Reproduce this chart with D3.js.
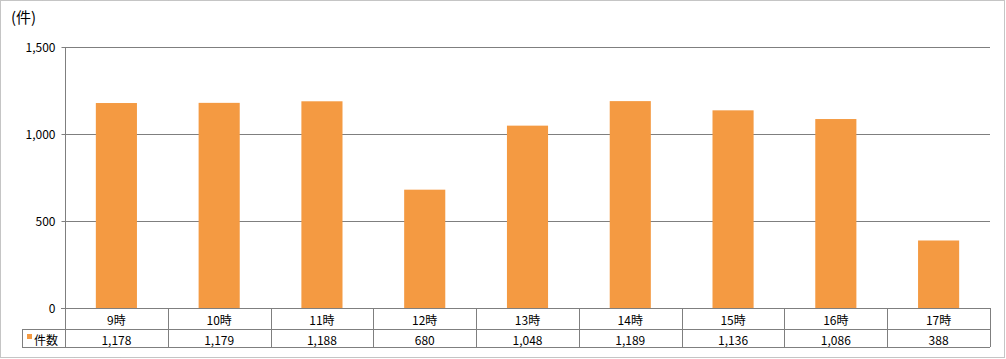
<!DOCTYPE html>
<html>
<head>
<meta charset="utf-8">
<script src="https://cdn.jsdelivr.net/npm/d3@7"></script>
<style>
body { margin: 0; background: #fff; }
text { font-family: "Noto Sans CJK JP", "DejaVu Sans", sans-serif; fill: #000; }
</style>
</head>
<body>
<svg></svg>
<script>
const width = 1006;
const height = 359;
const svg = d3.select("svg").attr("width", width).attr("height", height);

const hours = ["9時", "10時", "11時", "12時", "13時", "14時", "15時", "16時", "17時"];
const counts = [1178, 1179, 1188, 680, 1048, 1189, 1136, 1086, 388];
const yTicks = [0, 500, 1000, 1500];
const seriesName = "件数";
const unitLabel = "(件)";

const barColor = "#f49a42";
const lineColor = "#7f7f7f";

const plotLeft = 65, plotRight = 990, plotTop = 47, plotBottom = 308;
const rowMid = 329, rowBottom = 347, legendLeft = 22;

// 外枠
svg.append("rect")
	.attr("x", 0.5).attr("y", 0.5)
	.attr("width", width - 2).attr("height", height - 2)
	.attr("fill", "none")
	.attr("stroke", "#8a8a8a")
	.attr("stroke-dasharray", "1,1");

const x = d3.scaleBand().domain(hours).range([plotLeft, plotRight]);
const y = d3.scaleLinear().domain([0, 1500]).range([plotBottom, plotTop]);

// グリッド
svg.append("g")
	.selectAll("line")
	.data(yTicks.filter(d => d > 0))
	.join("line")
	.attr("x1", plotLeft).attr("x2", plotRight)
	.attr("y1", d => Math.round(y(d)) + 0.5)
	.attr("y2", d => Math.round(y(d)) + 0.5)
	.attr("stroke", lineColor);

// 棒
const bw = x.bandwidth() * 0.4;
svg.append("g")
	.selectAll("rect")
	.data(counts)
	.join("rect")
	.attr("x", (d, i) => x(hours[i]) + (x.bandwidth() - bw) / 2)
	.attr("y", d => y(d))
	.attr("width", bw)
	.attr("height", d => y(0) - y(d))
	.attr("fill", barColor);

// Y軸
const yAxis = svg.append("g")
	.attr("transform", `translate(${plotLeft + 0.5},0)`)
	.call(d3.axisLeft(y).tickValues(yTicks).tickSize(4).tickPadding(6).tickFormat(d3.format(",")));
yAxis.select(".domain").attr("stroke", lineColor).attr("d", `M0,${plotTop}V${rowBottom}`);
yAxis.selectAll(".tick line").attr("stroke", lineColor);
yAxis.selectAll(".tick text").style("font-size", "12px").attr("dy", "0.35em");

svg.append("text")
	.attr("x", 11).attr("y", 23)
	.style("font-size", "15px")
	.text(unitLabel);

// データテーブル
const table = svg.append("g").attr("stroke", lineColor).attr("fill", "none");
table.append("line")
	.attr("x1", plotLeft - 4).attr("x2", plotRight)
	.attr("y1", plotBottom + 0.5).attr("y2", plotBottom + 0.5);
table.append("line")
	.attr("x1", legendLeft).attr("x2", plotRight)
	.attr("y1", rowMid + 0.5).attr("y2", rowMid + 0.5);
table.append("line")
	.attr("x1", legendLeft).attr("x2", plotRight)
	.attr("y1", rowBottom + 0.5).attr("y2", rowBottom + 0.5);
table.append("line")
	.attr("x1", legendLeft + 0.5).attr("x2", legendLeft + 0.5)
	.attr("y1", rowMid).attr("y2", rowBottom);
table.selectAll(".col")
	.data(hours)
	.join("line")
	.attr("x1", d => Math.round(x(d) + x.bandwidth()) + 0.5)
	.attr("x2", d => Math.round(x(d) + x.bandwidth()) + 0.5)
	.attr("y1", plotBottom).attr("y2", rowBottom);

svg.append("g")
	.selectAll("text")
	.data(hours)
	.join("text")
	.attr("x", d => x(d) + x.bandwidth() / 2)
	.attr("y", (plotBottom + rowMid) / 2 + 1)
	.attr("text-anchor", "middle")
	.attr("dominant-baseline", "central")
	.style("font-size", "12px")
	.text(d => d);

svg.append("g")
	.selectAll("text")
	.data(counts)
	.join("text")
	.attr("x", (d, i) => x(hours[i]) + x.bandwidth() / 2)
	.attr("y", (rowMid + rowBottom) / 2 + 1)
	.attr("text-anchor", "middle")
	.attr("dominant-baseline", "central")
	.style("font-size", "12px")
	.text(d => d3.format(",")(d));

// 凡例
svg.append("rect")
	.attr("x", 27).attr("y", 334)
	.attr("width", 5).attr("height", 5)
	.attr("fill", barColor);
svg.append("text")
	.attr("x", 34).attr("y", (rowMid + rowBottom) / 2 + 1)
	.attr("dominant-baseline", "central")
	.style("font-size", "12px")
	.text(seriesName);
</script>
</body>
</html>
